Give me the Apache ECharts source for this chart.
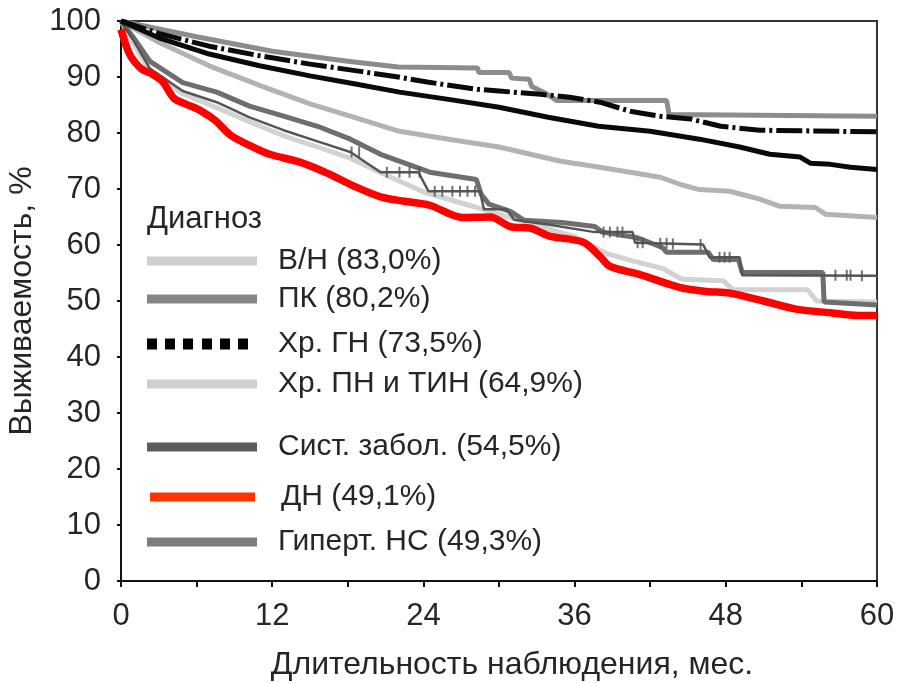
<!DOCTYPE html>
<html>
<head>
<meta charset="utf-8">
<script src="https://cdn.jsdelivr.net/npm/echarts@6/dist/echarts.min.js"></script>
<style>
  html, body { margin: 0; padding: 0; background: #fff; }
  #chart { width: 897px; height: 683px; }
</style>
</head>
<body>
<div id="chart"></div>
<script>
// Kaplan–Meier survival by diagnosis, 0–60 months
const xTicks = [0, 12, 24, 36, 48, 60];
const diagLabels = ['В/Н', 'ПК', 'Хр. ГН', 'Хр. ПН и ТИН', 'Сист. забол.', 'ДН', 'Гиперт. НС'];
const diagPct = ['83,0', '80,2', '73,5', '64,9', '54,5', '49,1', '49,3'];

// В/Н
const vnT = [0, 3, 6, 12, 18, 22, 28.3, 28.4, 30.8, 31, 32.4, 32.6, 33.6, 34.6, 43.3, 43.5, 60];
const vnS = [100, 98.6, 97.2, 94.6, 92.8, 91.8, 91.6, 90.8, 90.8, 89.8, 89.6, 88.3, 87.2, 85.8, 85.8, 83.3, 83.0];
// ПК
const pkT = [0, 3, 7, 11, 15, 19, 22, 24.3, 28.3, 30, 33.3, 35.6, 38, 40.4, 42.8, 45.2, 47.6, 50.7, 60];
const pkS = [100, 97.8, 95.5, 93.8, 92.3, 91, 90, 89.1, 87.8, 87.5, 86.9, 86.4, 85.5, 83.9, 83, 82.5, 81.2, 80.5, 80.2];
// Хр. ГН
const gnT = [0, 3, 7, 11, 15, 18.5, 22.1, 26, 30, 33.9, 37.9, 42, 45.9, 49.1, 51.5, 53.9, 54.7, 56.3, 57.9, 60];
const gnS = [100, 97, 94.1, 92, 90.2, 88.8, 87.3, 86, 84.6, 82.8, 81.2, 80.3, 78.9, 77.5, 76.2, 75.7, 74.6, 74.4, 73.9, 73.5];
// Хр. ПН и ТИН
const pnT = [0, 3, 7, 11, 15, 18.2, 22.1, 26, 30, 32.5, 34.8, 38, 40.4, 42.8, 44.4, 45.9, 48.3, 50.7, 52.3, 55.1, 55.9, 60];
const pnS = [100, 96.2, 92, 88.5, 85.2, 83, 80.3, 78.9, 77.5, 76.2, 75, 73.9, 73, 72.1, 70.8, 69.9, 69.6, 68.2, 66.9, 66.7, 65.5, 64.9];
// Сист. забол.
const szT = [0, 1, 2.3, 4.9, 7.6, 10.2, 12.9, 15.6, 18.2, 20.6, 23.6, 24.4, 28.5, 28.8, 30.6, 31.2, 34, 37.6, 40.6, 40.8, 46.2, 46.7, 49.1, 49.3, 60];
const szS = [100, 96.5, 91.5, 87.5, 85.5, 82.8, 80.5, 78.5, 76.6, 73, 73, 69.6, 69.6, 66.4, 66.4, 64.5, 63.6, 62.3, 62.3, 60.4, 60.1, 57.8, 57.8, 54.6, 54.5];
// Сист. забол. — censored observations
const szCensT = [18.3, 18.9, 21.1, 22.1, 22.9, 23.7, 24.9, 25.5, 26.3, 26.9, 27.5, 28.1, 38.3, 38.8, 39.4, 39.8, 41.0, 41.4, 42.8, 43.3, 43.8, 46.0, 47.5, 47.9, 48.3, 56.7, 57.6, 57.9, 58.8];
const szCensS = [76.6, 76.6, 73, 73, 73, 73, 69.6, 69.6, 69.6, 69.6, 69.6, 69.6, 62.3, 62.3, 62.3, 62.3, 60.4, 60.4, 60.3, 60.3, 60.2, 60.1, 57.8, 57.8, 57.8, 54.6, 54.6, 54.6, 54.5];
// ДН
const dnT = [0, 0.7, 1.6, 2.5, 3.3, 4.2, 5.1, 6.3, 7.5, 8.7, 10.2, 11.8, 14.2, 16.4, 18.5, 20.6, 22.5, 24.5, 27.1, 29.3, 30.9, 32.5, 34, 36.7, 38, 38.8, 41.2, 44.4, 46.5, 48.3, 51, 53.7, 56.3, 58.5, 60];
const dnS = [98.5, 94, 91.5, 90.5, 89.2, 86.2, 85.2, 84, 82.2, 79.6, 77.8, 76.2, 74.8, 72.8, 70.5, 68.6, 67.8, 67.1, 64.9, 65, 63.3, 63, 61.6, 60.5, 58, 56.2, 54.7, 52.4, 51.7, 51.4, 50, 48.5, 47.9, 47.4, 47.4];
// Гиперт. НС
const hnT = [0, 1, 2.3, 4.9, 7.6, 10.2, 12.9, 15.6, 18.2, 20.6, 24.5, 28.2, 28.6, 29.2, 30.9, 32, 35, 37.6, 38.2, 41, 43, 43.3, 46.6, 47, 49, 49.3, 55.7, 55.8, 60];
const hnS = [100, 97, 92.8, 89, 87.3, 84.8, 83, 81.2, 78.9, 76.2, 73, 71.7, 69, 67.3, 66, 64.4, 64, 63.3, 62.3, 61.3, 59.5, 58.7, 58.7, 57.4, 57.4, 55.1, 55.1, 49.8, 49.3];
// pale curve running just above ДН
const paleT = [0, 1, 2.3, 4.9, 7.6, 10.2, 12.9, 15.6, 18.2, 21, 24, 27, 30, 33, 36, 38.5, 40.5, 43, 44.5, 47.8, 48.6, 54.5, 55.2, 60];
const paleS = [100, 96, 91, 87, 84.5, 82, 79.5, 77.5, 75.5, 72.5, 69.5, 67.5, 65.5, 63.5, 61.5, 58.5, 57.2, 55.8, 53.9, 53.6, 52, 52, 50, 49.8];

const pairs = (t, s) => t.map((v, i) => [v, s[i]]);
const nameOf = i => diagLabels[i] + ' (' + diagPct[i] + '%)';

const FONT = 'Liberation Sans, Arial, sans-serif';
const TXT = '#262626';
const AX_FS = 31;

// legend swatches: [row center y, colour, icon]
const squares = 'path://M0 0h10v11h-10zM18 0h10v11h-10zM36 0h10v11h-10zM55 0h10v11h-10zM73 0h10v11h-10zM91 0h10v11h-10z';
const legendRows = [
  { y: 262, color: '#cfcfcf', icon: 'rect', w: 110, h: 9, pad: 16 },
  { y: 300, color: '#858585', icon: 'rect', w: 110, h: 9, pad: 16 },
  { y: 345, color: '#000000', icon: squares, w: 101, h: 11, pad: 25 },
  { y: 385, color: '#d0d0d0', icon: 'rect', w: 110, h: 9, pad: 16 },
  { y: 448, color: '#5c5c5c', icon: 'rect', w: 110, h: 9, pad: 16 },
  { y: 498, color: '#ff3300', icon: 'rect', w: 105, h: 9, pad: 21 },
  { y: 543, color: '#7c7c7c', icon: 'rect', w: 110, h: 9, pad: 16 }
];
const LEG_FS = 30;
const legends = legendRows.map((r, i) => ({
  left: r.w === 105 ? 150 : 147,
  top: r.y - LEG_FS / 2 - 1,
  orient: 'horizontal',
  selectedMode: false,
  itemWidth: r.w,
  itemHeight: r.h,
  padding: 0,
  data: [{ name: nameOf(i), icon: r.icon, itemStyle: { color: r.color, borderWidth: 0 } }],
  textStyle: { fontFamily: FONT, fontSize: LEG_FS, color: TXT, padding: [0, 0, 0, r.pad] }
}));

const lineSeries = (name, data, color, width, extra) => Object.assign({
  type: 'line', name, data, showSymbol: false, symbol: 'none',
  lineStyle: { color, width }, itemStyle: { color },
  emphasis: { disabled: true }, animation: false
}, extra || {});

const option = {
  animation: false,
  title: { text: 'Диагноз', left: 147, top: 204, padding: 0,
           textStyle: { fontFamily: FONT, fontSize: 31, fontWeight: 'normal', color: TXT } },
  legend: legends,
  grid: { left: 121, right: 20, top: 21, bottom: 102, show: true, borderColor: '#333', borderWidth: 2,
          containLabel: false, outerBoundsMode: 'none' },
  xAxis: {
    type: 'value', min: 0, max: 60, interval: 6,
    name: 'Длительность наблюдения, мес.', nameLocation: 'middle', nameGap: 68,
    nameTextStyle: { fontFamily: FONT, fontSize: 32, color: TXT, padding: [0, 0, 0, 26] },
    axisLine: { lineStyle: { color: '#111', width: 2 } },
    axisTick: { show: true, length: 6, lineStyle: { color: '#111', width: 2 } },
    axisLabel: { fontFamily: FONT, fontSize: AX_FS, color: TXT, margin: 20,
                 formatter: v => xTicks.includes(v) ? String(v) : '' },
    splitLine: { show: false }
  },
  yAxis: {
    type: 'value', min: 0, max: 100, interval: 10,
    name: 'Выживаемость, %', nameLocation: 'middle', nameGap: 76, nameRotate: 90,
    nameTextStyle: { fontFamily: FONT, fontSize: 32, color: TXT },
    axisLine: { show: true, lineStyle: { color: '#111', width: 2 } },
    axisTick: { show: true, length: 4, lineStyle: { color: '#111', width: 2 } },
    axisLabel: { fontFamily: FONT, fontSize: AX_FS, color: TXT, margin: 20 },
    splitLine: { show: false }
  },
  series: [
    lineSeries('прочие', pairs(paleT, paleS), '#d2d2d2', 5),
    lineSeries(nameOf(3), pairs(pnT, pnS), '#b3b3b3', 5),
    lineSeries(nameOf(6), pairs(hnT, hnS), '#6e6e6e', 5),
    lineSeries(nameOf(4), pairs(szT, szS), '#555555', 2.5),
    {
      type: 'scatter', name: nameOf(4), data: pairs(szCensT, szCensS),
      symbol: 'rect', symbolSize: [2, 11], itemStyle: { color: '#505050' },
      emphasis: { disabled: true }, animation: false, z: 3
    },
    lineSeries(nameOf(0), pairs(vnT, vnS), '#8c8c8c', 5),
    lineSeries(nameOf(1), pairs(pkT, pkS), '#0a0a0a', 5, { lineStyle: { color: '#0a0a0a', width: 5, type: [26, 4, 3, 4] } }),
    lineSeries(nameOf(2), pairs(gnT, gnS), '#0a0a0a', 5),
    lineSeries(nameOf(5), pairs(dnT, dnS), '#ff0000', 7.5, { smooth: 0.3 })
  ]
};

const chart = echarts.init(document.getElementById('chart'), null, { renderer: 'canvas' });
chart.setOption(option);
</script>
</body>
</html>
